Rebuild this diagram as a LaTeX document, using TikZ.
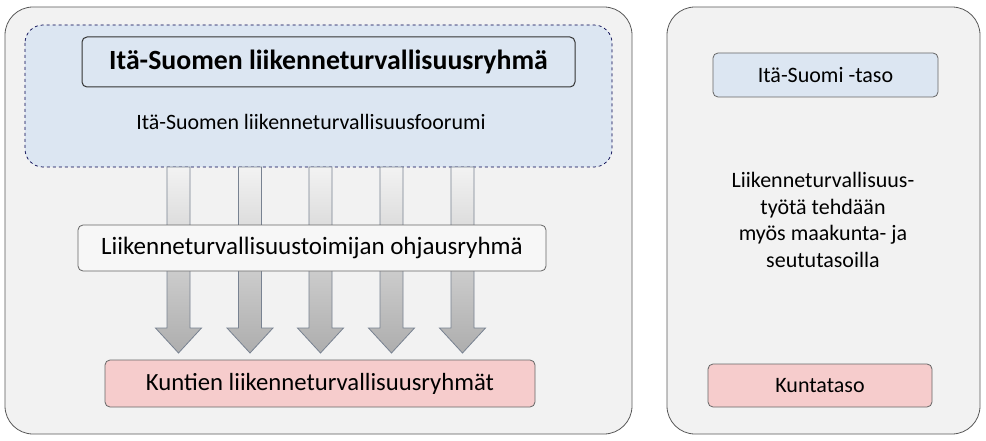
\documentclass[tikz,border=0pt]{standalone}
\usepackage{fontspec}
\setmainfont{Carlito}
\definecolor{lblue}{RGB}{220,230,242}
\definecolor{lpink}{RGB}{246,204,204}
\definecolor{aline}{RGB}{120,130,145}
\begin{document}
\begin{tikzpicture}[x=1pt,y=-1pt,
  panel/.style={draw=black!65,line width=0.8pt,fill=black!5,rounded corners=28pt},
  box/.style={draw=black!60,line width=0.8pt,rounded corners=5pt,minimum height=44pt,inner sep=0pt},
  bluebox/.style={box,fill=lblue},
  pinkbox/.style={box,fill=lpink},
  whitebox/.style={box,fill=black!3},
  arr/.style={draw=aline,line width=0.8pt,top color=black!5,bottom color=black!32}]
\useasboundingbox (0,0) rectangle (986,441);
\draw[panel] (5,7) rectangle (632,434);
\draw[panel] (667,7) rectangle (980,434);
\draw[dashed,draw=blue!30!black,fill=lblue,rounded corners=18pt,line width=0.7pt] (25,25) rectangle (612,167);
\node[bluebox,draw=black!80,line width=1pt,minimum width=493pt,minimum height=50pt,font=\bfseries\fontsize{27.8}{30}\selectfont] (title) at (328.5,62) {Itä-Suomen liikenneturvallisuusryhmä};
\node[font=\fontsize{21.9}{24}\selectfont] (forum) at (311,122) {Itä-Suomen liikenneturvallisuusfoorumi};
\foreach \c in {178.5,250,320.5,391.5,462.5}{
  \path[arr] (\c-11.5,167) -- (\c+11.5,167) -- (\c+11.5,328) -- (\c+23,328) -- (\c,353) -- (\c-23,328) -- (\c-11.5,328) -- cycle;
}
\node[whitebox,minimum width=468pt,minimum height=46pt,font=\fontsize{25}{28}\selectfont] (ohj) at (312,248) {Liikenneturvallisuustoimijan ohjausryhmä};
\node[pinkbox,minimum width=430pt,minimum height=47pt,font=\fontsize{24.7}{28}\selectfont] (kunt) at (320,383.5) {Kuntien liikenneturvallisuusryhmät};
\node[bluebox,minimum width=225pt,font=\fontsize{22}{25}\selectfont] (ita) at (825.5,75) {Itä-Suomi -taso};
\node[align=center,font=\fontsize{22}{26.5}\selectfont] (txt) at (823,220) {Liikenneturvallisuus-\\työtä tehdään\\myös maakunta- ja\\seututasoilla};
\node[pinkbox,minimum width=224pt,minimum height=43pt,font=\fontsize{22}{25}\selectfont] (kt) at (820,385.5) {Kuntataso};
\end{tikzpicture}
\end{document}
